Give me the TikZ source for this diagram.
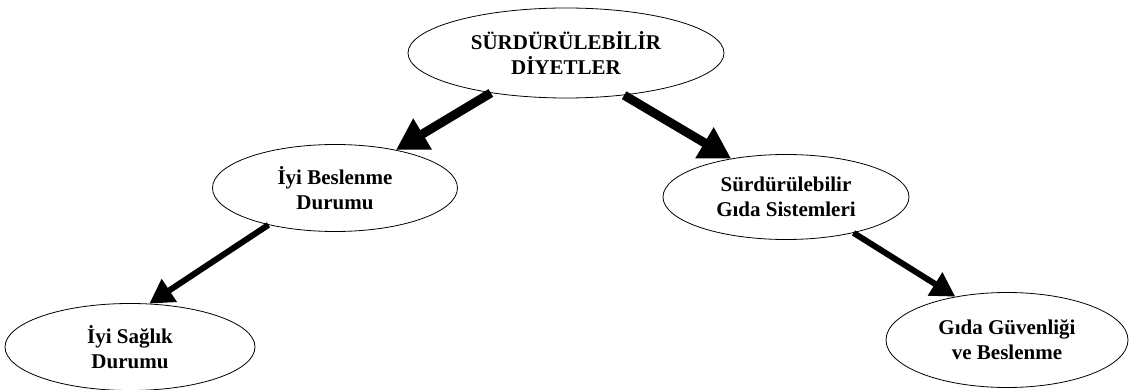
\documentclass[tikz,border=0pt]{standalone}
\usepackage{fontspec}
\setmainfont{Liberation Serif}
\usetikzlibrary{shapes,arrows.meta}

\begin{document}
\begin{tikzpicture}[x=1pt,y=-1pt,
	oval/.style={ellipse,draw,line width=0.8pt,inner sep=0pt,align=center,font=\fontsize{21}{25}\selectfont\bfseries},
	bigarrow/.style={line width=9pt,-{Triangle[length=31pt,width=34pt]}},
	smallarrow/.style={line width=6pt,-{Triangle[length=24pt,width=26pt]}}]
\useasboundingbox (0,0) rectangle (1130,390);
\node [oval,minimum width=316pt,minimum height=90pt] (ust) at (566,53) {SÜRDÜRÜLEBİLİR\\DİYETLER};
\node [oval,minimum width=245pt,minimum height=87pt] (besl) at (335,188) {İyi Beslenme\\Durumu};
\node [oval,minimum width=246pt,minimum height=85pt] (gida) at (786,197) {Sürdürülebilir\\Gıda Sistemleri};
\node [oval,minimum width=250pt,minimum height=87pt] (saglik) at (130,347) {İyi Sağlık\\Durumu};
\node [oval,minimum width=242pt,minimum height=95pt] (guven) at (1007,340) {Gıda Güvenliği\\ve Beslenme};
% oklar
\draw [bigarrow] (ust.208) -- (besl.32);
\draw [bigarrow] (ust.324) -- (gida.145);
\draw [smallarrow] (besl.209) -- (saglik.66);
\draw [smallarrow] (gida.332) -- (guven.140);
\end{tikzpicture}
\end{document}
